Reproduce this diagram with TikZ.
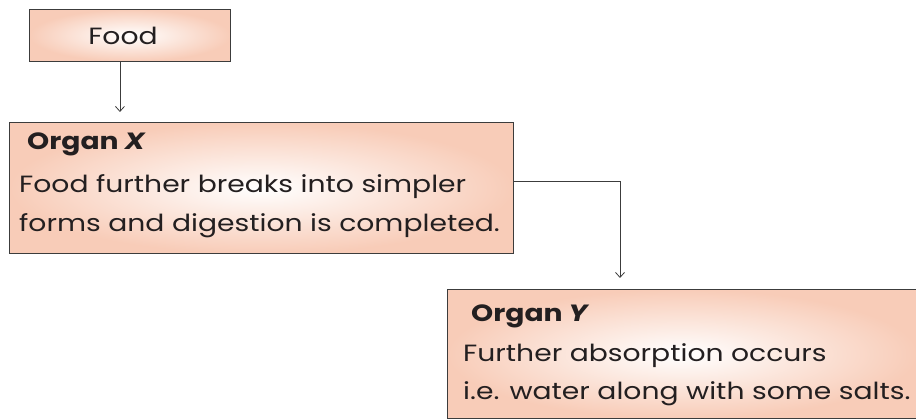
\documentclass[tikz,border=0pt]{standalone}
\usepackage{fontspec}
\setmainfont[FakeStretch=1.2]{Poppins}
\usetikzlibrary{arrows.meta}
\definecolor{peach}{RGB}{248,204,184}
\definecolor{edge}{RGB}{60,60,60}
\definecolor{txt}{RGB}{35,31,32}
\begin{document}
\begin{tikzpicture}[x=1pt,y=-1pt,
  box/.style={draw=edge,line width=0.9pt,inner color=white,outer color=peach,inner sep=0pt,anchor=north west},
  body/.style={font=\fontsize{23.5}{27}\selectfont,text=txt,anchor=base west,inner sep=0pt},
  head/.style={font=\fontsize{23.5}{27}\selectfont\bfseries,text=txt,anchor=base west,inner sep=0pt},
  conn/.style={draw=edge,line width=0.8pt,-{Straight Barb[length=5pt,width=9pt]}}]
\useasboundingbox (0,0) rectangle (916,419);
\node[box,minimum width=201pt,minimum height=52pt] (food) at (29,9) {};
\node[font=\fontsize{23.5}{27}\selectfont,text=txt,xshift=-7pt] (foodt) at (food.center) {Food};
\node[box,minimum width=504pt,minimum height=131pt] (orgx) at (9,122) {};
\node[head] (xh) at (27,150) {Organ \textit{X}};
\node[body] (x1) at (19,193) {Food further breaks into simpler};
\node[body] (x2) at (19,232) {forms and digestion is completed.};
\node[box,minimum width=470pt,minimum height=129pt] (orgy) at (447,289) {};
\node[head] (yh) at (471,322) {Organ \textit{Y}};
\node[body] (y1) at (463,362) {Further absorption occurs};
\node[body] (y2) at (463,400) {i.e. water along with some salts.};
\coordinate (fstart) at ([xshift=-10pt]food.south);
\coordinate (bend) at (620,181);
\coordinate (ytip) at (620,278);
\draw[conn] (fstart) -- (fstart |- 0,112);
\draw[conn] (orgx.east |- bend) -- (bend) -- (ytip);
\end{tikzpicture}
\end{document}
